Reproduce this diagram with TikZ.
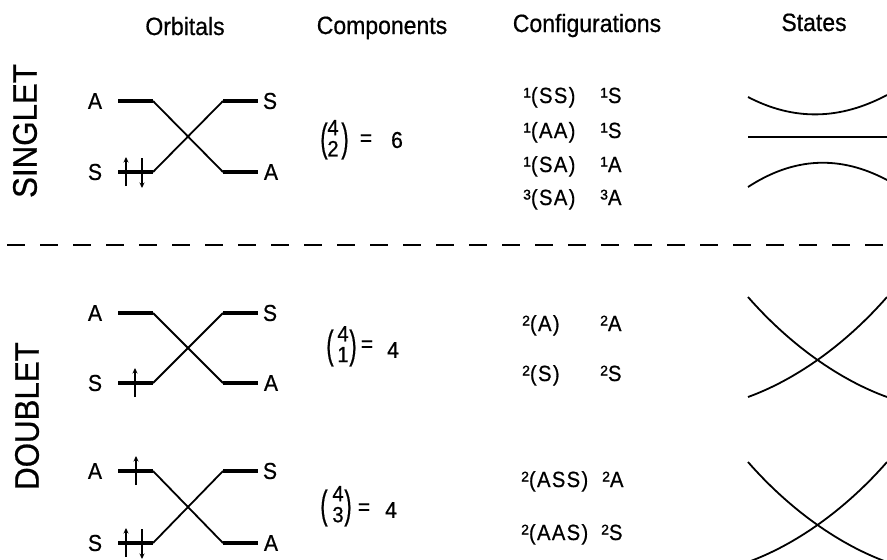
\documentclass[tikz,border=0pt]{standalone}
\usepackage{fontspec}
\setmainfont[FakeStretch=0.92,FakeBold=0.6]{Liberation Sans}
\newfontfamily\conffont[FakeStretch=0.92,FakeBold=0.6,LetterSpace=6]{Liberation Sans}
\newfontfamily\supfont[FakeBold=1.5]{Liberation Sans}
\usetikzlibrary{arrows.meta}
\begin{document}
\begin{tikzpicture}[x=1pt,y=-1pt,
  lvl/.style={line width=4pt},
  crossline/.style={line width=1.8pt},
  orb/.style={font=\fontsize{23}{23}\selectfont, inner sep=0pt},
  title/.style={font=\fontsize{25}{25}\selectfont, inner sep=0pt, anchor=base},
  spin/.style={font=\fontsize{34}{34}\selectfont, rotate=90, inner sep=0pt},
  conf/.style={font=\conffont\fontsize{22}{22}\selectfont, anchor=base west, inner sep=0pt},
  comp/.style={font=\fontsize{23}{23}\selectfont, inner sep=0pt},
  dig/.style={font=\fontsize{22}{19}\selectfont, inner sep=0pt},
  paren/.style={font=\fontsize{24}{24}\selectfont, inner sep=0pt},
  elec/.style={line width=1.3pt, -{Stealth[length=5.5pt,width=5pt]}},
  statecurve/.style={line width=1.8pt},
]
\useasboundingbox (0,0) rectangle (887,560);

% titles
\node[title] (t1) at (185,35) {Orbitals};
\node[title] (t2) at (382,34) {Components};
\node[title] (t3) at (587,32) {Configurations};
\node[title] (t4) at (814,31) {States};

% spin labels
\node[spin] (sing) at (25,131) {SINGLET};
\node[spin] (doub) at (27,416) {DOUBLET};

% separator
\draw[line width=2.5pt, dash pattern=on 18pt off 15pt] (7,245) -- (887,245);

% orbital blocks
\foreach \p/\t/\b in {s/101/172, d/313/383, e/471/543}{
  \draw[lvl] (118,\t) coordinate (\p-la1) -- (153,\t) coordinate (\p-la2);
  \draw[lvl] (118,\b) coordinate (\p-ls1) -- (153,\b) coordinate (\p-ls2);
  \draw[lvl] (223,\t) coordinate (\p-rs1) -- (258,\t) coordinate (\p-rs2);
  \draw[lvl] (223,\b) coordinate (\p-ra1) -- (258,\b) coordinate (\p-ra2);
  \draw[crossline] (\p-la2) -- (\p-ra1);
  \draw[crossline] (\p-ls2) -- (\p-rs1);
  \node[orb] (\p-A) at (95,\t) {A};
  \node[orb] (\p-S) at (95,\b) {S};
  \node[orb] (\p-rS) at (270,\t) {S};
  \node[orb] (\p-rA) at (271,\b) {A};
}

% electrons
\draw[elec] (126,186) -- (126,157);
\draw[elec] (142,158) -- (142,188);
\draw[elec] (135,397) -- (135,368);
\draw[elec] (136,485) -- (136,456);
\draw[elec] (126,557) -- (126,528);
\draw[elec] (142,529) -- (142,559);

% components
\newcommand{\lpar}{\scalebox{1}[1.65]{(}}
\newcommand{\rpar}{\scalebox{1}[1.65]{)}}
\newcommand{\stk}[2]{\begin{tabular}{@{}c@{}}#1\\#2\end{tabular}}
\node[paren] (s-lp) at (324,141) {\lpar};
\node[dig] (s-stack) at (333,141) {\stk{4}{2}};
\node[paren] (s-rp) at (345,141) {\rpar};
\node[comp] (s-eq) at (366,140) {=};
\node[comp] (s-n) at (397,140) {6};

\node[paren] (d-lp) at (330,348) {\lpar};
\node[dig] (d-stack) at (343,347) {\stk{4}{1}};
\node[paren] (d-rp) at (353,348) {\rpar};
\node[comp] (d-eq) at (367,346) {=};
\node[comp] (d-n) at (393,350) {4};

\node[paren] (e-lp) at (324,508) {\lpar};
\node[dig] (e-stack) at (338,507) {\stk{4}{3}};
\node[paren] (e-rp) at (348,508) {\rpar};
\node[comp] (e-eq) at (364,509) {=};
\node[comp] (e-n) at (391,510) {4};

% configurations
\newcommand{\sps}[1]{\raisebox{5.5pt}{\supfont\fontsize{14}{14}\selectfont #1}}
\node[conf] (c1) at (523,103) {\sps{1}(SS)};
\node[conf] (c1s) at (600,103) {\sps{1}S};
\node[conf] (c2) at (523,138) {\sps{1}(AA)};
\node[conf] (c2s) at (600,138) {\sps{1}S};
\node[conf] (c3) at (523,172) {\sps{1}(SA)};
\node[conf] (c3s) at (600,172) {\sps{1}A};
\node[conf] (c4) at (523,205) {\sps{3}(SA)};
\node[conf] (c4s) at (600,205) {\sps{3}A};
\node[conf] (c5) at (522,331) {\sps{2}(A)};
\node[conf] (c5s) at (600,331) {\sps{2}A};
\node[conf] (c6) at (522,381) {\sps{2}(S)};
\node[conf] (c6s) at (600,381) {\sps{2}S};
\node[conf] (c7) at (521,487) {\sps{2}(ASS)};
\node[conf] (c7s) at (602,487) {\sps{2}A};
\node[conf] (c8) at (521,540) {\sps{2}(AAS)};
\node[conf] (c8s) at (601,540) {\sps{2}S};

% states
\draw[statecurve] (748,97) .. controls (794,121) and (840,120) .. (887,95);
\draw[statecurve] (748,137) -- (887,137);
\draw[statecurve] (748,187) .. controls (794,157) and (840,155) .. (887,180);
\draw[statecurve] (748,297) .. controls (790,345) and (840,380) .. (887,397);
\draw[statecurve] (748,397) .. controls (795,380) and (845,345) .. (887,297);
\draw[statecurve] (748,462) .. controls (790,510) and (840,545) .. (887,562);
\draw[statecurve] (748,562) .. controls (795,545) and (845,510) .. (887,462);
\end{tikzpicture}
\end{document}
